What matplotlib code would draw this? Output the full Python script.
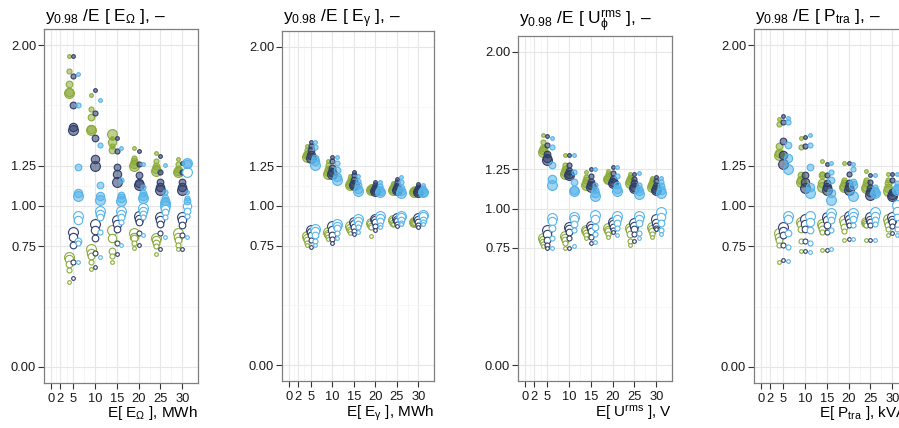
import matplotlib
matplotlib.use("Agg")
import matplotlib.colors as mcolors
import matplotlib.pyplot as plt
import numpy as np

plt.rcParams["font.family"] = ["Liberation Sans", "DejaVu Sans"]
plt.rcParams["mathtext.fontset"] = "custom"
plt.rcParams["mathtext.rm"] = "Liberation Sans"
plt.rcParams["mathtext.it"] = "Liberation Sans:italic"
plt.rcParams["mathtext.sf"] = "Liberation Sans"

# expected value of the quantity (x groups) and marker size rank (1 = smallest)
groups = [5, 10, 15, 20, 25, 30]
size_rank = [1, 2, 3, 4, 5]
series = ["green", "navy", "blue"]

# ---- panel 1: E_Omega ----  rows = groups, cols = size rank
omega_hi_green = [[1.93, 1.84, 1.76, 1.71, 1.70], [1.69, 1.60, 1.55, 1.48, 1.47],
                  [1.42, 1.37, 1.35, 1.40, 1.45], [1.36, 1.30, 1.28, 1.26, 1.25],
                  [1.33, 1.28, 1.25, 1.23, 1.22], [1.29, 1.26, 1.23, 1.215, 1.21]]
omega_hi_navy = [[1.93, 1.81, 1.63, 1.49, 1.47], [1.72, 1.575, 1.42, 1.29, 1.25],
                 [1.42, 1.34, 1.245, 1.20, 1.15], [1.34, 1.26, 1.19, 1.14, 1.13],
                 [1.31, 1.21, 1.15, 1.12, 1.10], [1.27, 1.21, 1.15, 1.12, 1.10]]
omega_hi_blue = [[1.82, 1.63, 1.24, 1.08, 1.06], [1.66, 1.38, 1.13, 1.06, 1.04],
                 [1.36, 1.16, 1.07, 1.05, 1.03], [1.26, 1.12, 1.08, 1.06, 1.05],
                 [1.255, 1.09, 1.05, 1.03, 1.02], [1.09, 1.05, 1.03, 1.26, 1.27]]
omega_lo_green = [[0.53, 0.60, 0.64, 0.67, 0.68], [0.61, 0.65, 0.69, 0.71, 0.73],
                  [0.65, 0.69, 0.72, 0.80, 0.85], [0.74, 0.77, 0.80, 0.81, 0.83],
                  [0.70, 0.75, 0.77, 0.79, 0.80], [0.73, 0.76, 0.79, 0.81, 0.83]]
omega_lo_navy = [[0.55, 0.65, 0.76, 0.81, 0.84], [0.62, 0.71, 0.80, 0.85, 0.89],
                 [0.70, 0.77, 0.86, 0.89, 0.91], [0.76, 0.83, 0.90, 0.92, 0.94],
                 [0.73, 0.83, 0.89, 0.91, 0.93], [0.73, 0.82, 0.88, 0.91, 0.93]]
omega_lo_blue = [[0.65, 0.77, 0.78, 0.91, 0.94], [0.68, 0.84, 0.93, 0.95, 0.97],
                 [0.76, 0.90, 0.93, 0.95, 0.97], [0.82, 0.93, 0.95, 0.97, 0.99],
                 [0.81, 0.93, 0.96, 0.98, 1.00], [0.81, 0.94, 0.97, 1.00, 1.21]]

# ---- panel 2: E_gamma ----
gamma_hi_green = [[1.38, 1.355, 1.33, 1.32, 1.31], [1.28, 1.26, 1.235, 1.215, 1.20],
                  [1.19, 1.17, 1.15, 1.14, 1.13], [1.125, 1.115, 1.11, 1.105, 1.10],
                  [1.145, 1.13, 1.12, 1.11, 1.10], [1.11, 1.105, 1.10, 1.095, 1.09]]
gamma_hi_navy = [[1.40, 1.38, 1.35, 1.32, 1.30], [1.305, 1.28, 1.24, 1.215, 1.20],
                 [1.215, 1.195, 1.165, 1.14, 1.13], [1.15, 1.13, 1.115, 1.10, 1.095],
                 [1.17, 1.15, 1.125, 1.11, 1.10], [1.14, 1.12, 1.105, 1.095, 1.09]]
gamma_hi_blue = [[1.40, 1.37, 1.30, 1.28, 1.26], [1.31, 1.27, 1.225, 1.18, 1.165],
                 [1.19, 1.16, 1.13, 1.11, 1.095], [1.15, 1.125, 1.11, 1.095, 1.085],
                 [1.18, 1.15, 1.115, 1.095, 1.08], [1.135, 1.115, 1.10, 1.09, 1.085]]
gamma_lo_green = [[0.755, 0.77, 0.785, 0.80, 0.81], [0.795, 0.805, 0.815, 0.825, 0.835],
                  [0.83, 0.84, 0.85, 0.86, 0.875], [0.81, 0.865, 0.875, 0.885, 0.895],
                  [0.885, 0.89, 0.895, 0.905, 0.91], [0.895, 0.897, 0.90, 0.90, 0.90]]
gamma_lo_navy = [[0.745, 0.785, 0.815, 0.835, 0.85], [0.77, 0.795, 0.82, 0.85, 0.875],
                 [0.825, 0.845, 0.87, 0.89, 0.90], [0.85, 0.875, 0.90, 0.91, 0.92],
                 [0.875, 0.885, 0.905, 0.915, 0.925], [0.87, 0.88, 0.90, 0.915, 0.925]]
gamma_lo_blue = [[0.755, 0.78, 0.815, 0.84, 0.855], [0.80, 0.83, 0.86, 0.875, 0.89],
                 [0.835, 0.865, 0.89, 0.905, 0.92], [0.865, 0.88, 0.905, 0.925, 0.935],
                 [0.885, 0.895, 0.915, 0.93, 0.94], [0.885, 0.90, 0.915, 0.935, 0.945]]

# ---- panel 3: U_phi^rms ----
urms_hi_green = [[1.47, 1.425, 1.385, 1.37, 1.36], [1.34, 1.28, 1.25, 1.23, 1.22],
                 [1.23, 1.20, 1.18, 1.16, 1.15], [1.24, 1.22, 1.20, 1.19, 1.185],
                 [1.22, 1.20, 1.19, 1.175, 1.165], [1.195, 1.18, 1.165, 1.15, 1.14]]
urms_hi_navy = [[1.46, 1.405, 1.345, 1.32, 1.31], [1.34, 1.28, 1.24, 1.22, 1.215],
                [1.25, 1.21, 1.17, 1.15, 1.14], [1.265, 1.225, 1.19, 1.17, 1.16],
                [1.22, 1.185, 1.16, 1.14, 1.13], [1.20, 1.175, 1.145, 1.125, 1.115]]
urms_hi_blue = [[1.45, 1.39, 1.28, 1.185, 1.15], [1.34, 1.23, 1.17, 1.12, 1.11],
                [1.25, 1.15, 1.12, 1.10, 1.08], [1.265, 1.205, 1.15, 1.125, 1.11],
                [1.225, 1.15, 1.125, 1.11, 1.095], [1.195, 1.17, 1.145, 1.12, 1.10]]
urms_lo_green = [[0.76, 0.775, 0.785, 0.80, 0.81], [0.75, 0.78, 0.80, 0.815, 0.825],
                 [0.81, 0.83, 0.845, 0.855, 0.865], [0.82, 0.84, 0.855, 0.865, 0.875],
                 [0.77, 0.79, 0.835, 0.86, 0.875], [0.82, 0.84, 0.855, 0.87, 0.885]]
urms_lo_navy = [[0.745, 0.77, 0.80, 0.835, 0.865], [0.75, 0.81, 0.85, 0.87, 0.88],
                [0.78, 0.82, 0.855, 0.875, 0.89], [0.85, 0.86, 0.88, 0.90, 0.915],
                [0.79, 0.835, 0.87, 0.89, 0.91], [0.87, 0.875, 0.89, 0.905, 0.93]]
urms_lo_blue = [[0.75, 0.81, 0.875, 0.92, 0.94], [0.76, 0.86, 0.90, 0.93, 0.945],
                [0.785, 0.835, 0.885, 0.93, 0.96], [0.83, 0.875, 0.905, 0.93, 0.95],
                [0.81, 0.845, 0.905, 0.93, 0.95], [0.835, 0.865, 0.91, 0.945, 0.98]]

# ---- panel 4: P_tra ----
ptra_hi_green = [[1.54, 1.51, 1.375, 1.33, 1.32], [1.425, 1.365, 1.19, 1.16, 1.15],
                 [1.28, 1.20, 1.19, 1.14, 1.12], [1.265, 1.16, 1.14, 1.125, 1.12],
                 [1.22, 1.16, 1.14, 1.12, 1.11], [1.20, 1.16, 1.14, 1.11, 1.095]]
ptra_hi_navy = [[1.56, 1.52, 1.405, 1.315, 1.26], [1.43, 1.375, 1.19, 1.15, 1.11],
                [1.26, 1.19, 1.14, 1.12, 1.10], [1.27, 1.20, 1.14, 1.12, 1.10],
                [1.195, 1.15, 1.11, 1.09, 1.07], [1.20, 1.16, 1.09, 1.07, 1.06]]
ptra_hi_blue = [[1.545, 1.525, 1.38, 1.30, 1.23], [1.44, 1.38, 1.245, 1.12, 1.08],
                [1.265, 1.21, 1.16, 1.08, 1.04], [1.26, 1.23, 1.15, 1.13, 1.06],
                [1.19, 1.12, 1.10, 1.085, 1.08], [1.20, 1.14, 1.12, 1.105, 1.10]]
ptra_lo_green = [[0.655, 0.76, 0.79, 0.81, 0.83], [0.72, 0.78, 0.86, 0.89, 0.90],
                 [0.725, 0.84, 0.86, 0.875, 0.89], [0.79, 0.845, 0.87, 0.895, 0.91],
                 [0.79, 0.88, 0.89, 0.895, 0.90], [0.82, 0.86, 0.88, 0.90, 0.92]]
ptra_lo_navy = [[0.665, 0.76, 0.82, 0.845, 0.87], [0.72, 0.78, 0.855, 0.89, 0.92],
                [0.725, 0.84, 0.88, 0.91, 0.93], [0.795, 0.88, 0.90, 0.92, 0.935],
                [0.79, 0.88, 0.90, 0.915, 0.93], [0.83, 0.875, 0.90, 0.915, 0.93]]
ptra_lo_blue = [[0.66, 0.745, 0.83, 0.92, 0.94], [0.715, 0.77, 0.85, 0.90, 0.94],
                [0.735, 0.85, 0.91, 0.94, 0.955], [0.795, 0.88, 0.92, 0.94, 0.955],
                [0.79, 0.89, 0.91, 0.94, 0.965], [0.82, 0.86, 0.93, 0.97, 1.005]]

y_ticks = [0.0, 0.75, 1.0, 1.25, 2.0]
x_ticks = [0, 2, 5, 10, 15, 20, 25, 30]

panels = [
    dict(hi=[omega_hi_green, omega_hi_navy, omega_hi_blue],
         lo=[omega_lo_green, omega_lo_navy, omega_lo_blue],
         title=r"$\mathrm{y_{0.98}}$ /E [ $\mathrm{E_{\Omega}}$ ], –",
         xlabel=r"E[ $\mathrm{E_{\Omega}}$ ], MWh",
         box=(44, 29, 154, 354), title_dy=6.0),
    dict(hi=[gamma_hi_green, gamma_hi_navy, gamma_hi_blue],
         lo=[gamma_lo_green, gamma_lo_navy, gamma_lo_blue],
         title=r"$\mathrm{y_{0.98}}$ /E [ $\mathrm{E_{\gamma}}$ ], –",
         xlabel=r"E[ $\mathrm{E_{\gamma}}$ ], MWh",
         box=(282, 31, 152, 350), title_dy=6.5),
    dict(hi=[urms_hi_green, urms_hi_navy, urms_hi_blue],
         lo=[urms_lo_green, urms_lo_navy, urms_lo_blue],
         title=r"$\mathrm{y_{0.98}}$ /E [ $\mathrm{U_{\phi}^{rms}}$ ], –",
         xlabel=r"E[ $\mathrm{U^{rms}}$ ], V",
         box=(518, 36, 154, 345), title_dy=8.5),
    dict(hi=[ptra_hi_green, ptra_hi_navy, ptra_hi_blue],
         lo=[ptra_lo_green, ptra_lo_navy, ptra_lo_blue],
         title=r"$\mathrm{y_{0.98}}$ /E [ $\mathrm{P_{tra}}$ ], –",
         xlabel=r"E[ $\mathrm{P_{tra}}$ ], kVA",
         box=(754, 29, 154, 354), title_dy=6.0),
]

W, H = 899, 428
edge_colors = {"green": "#8CAB3A", "navy": "#2E3D6A", "blue": "#56B4E9"}
dodge = {"green": -1.0, "navy": 0.0, "blue": 1.05}
area = {1: 7, 2: 13, 3: 23, 4: 36, 5: 50}

fig = plt.figure(figsize=(W / 100, H / 100), dpi=100, facecolor="white")

for p in panels:
    left, top, w, h = p["box"]
    ax = fig.add_axes([left / W, 1 - (top + h) / H, w / W, h / H])
    ax.set_facecolor("white")
    ax.set_xlim(-1.7, 33.6)
    ax.set_ylim(-0.1, 2.1)

    ax.set_xticks(x_ticks)
    ax.set_yticks(y_ticks)
    ax.set_yticklabels([f"{t:.2f}" for t in y_ticks])
    ax.set_xticks([1, 3.5, 7.5, 12.5, 17.5, 22.5, 27.5], minor=True)
    ax.set_yticks([0.375, 0.875, 1.125, 1.625], minor=True)
    ax.grid(True, which="major", color="#E6E6E6", linewidth=0.8, zorder=0)
    ax.grid(True, which="minor", color="#F3F3F3", linewidth=0.5, zorder=0)
    ax.set_axisbelow(True)
    ax.tick_params(which="major", length=4.5, width=0.8, color="#333333",
                   labelsize=9.3, labelcolor="#1A1A1A")
    ax.tick_params(axis="x", which="major", pad=2.5)
    ax.tick_params(axis="y", which="major", pad=1.2)
    ax.tick_params(which="minor", length=0)
    for spine in ax.spines.values():
        spine.set_edgecolor("#7F7F7F")
        spine.set_linewidth(0.9)

    for si, name in enumerate(series):
        ec = edge_colors[name]
        fc = mcolors.to_rgba(ec, 0.55)
        hi = np.array(p["hi"][si])
        lo = np.array(p["lo"][si])
        for r in reversed(size_rank):
            xs = np.array(groups) + dodge[name]
            ax.scatter(xs, lo[:, r - 1], s=area[r], facecolors="white",
                       edgecolors=ec, linewidths=0.8, zorder=3)
            ax.scatter(xs, hi[:, r - 1], s=area[r], facecolors=fc,
                       edgecolors=ec, linewidths=0.8, zorder=3)

    ax.annotate(p["title"], xy=(0, 1), xycoords="axes fraction",
                xytext=(1, p["title_dy"]), textcoords="offset points",
                ha="left", va="baseline", fontsize=12.5, color="black")
    fig.text((left + w) / W, 1 - 416.5 / H, p["xlabel"], ha="right",
             va="baseline", fontsize=11, color="black")

fig.savefig("out.png", dpi=100, facecolor="white")
